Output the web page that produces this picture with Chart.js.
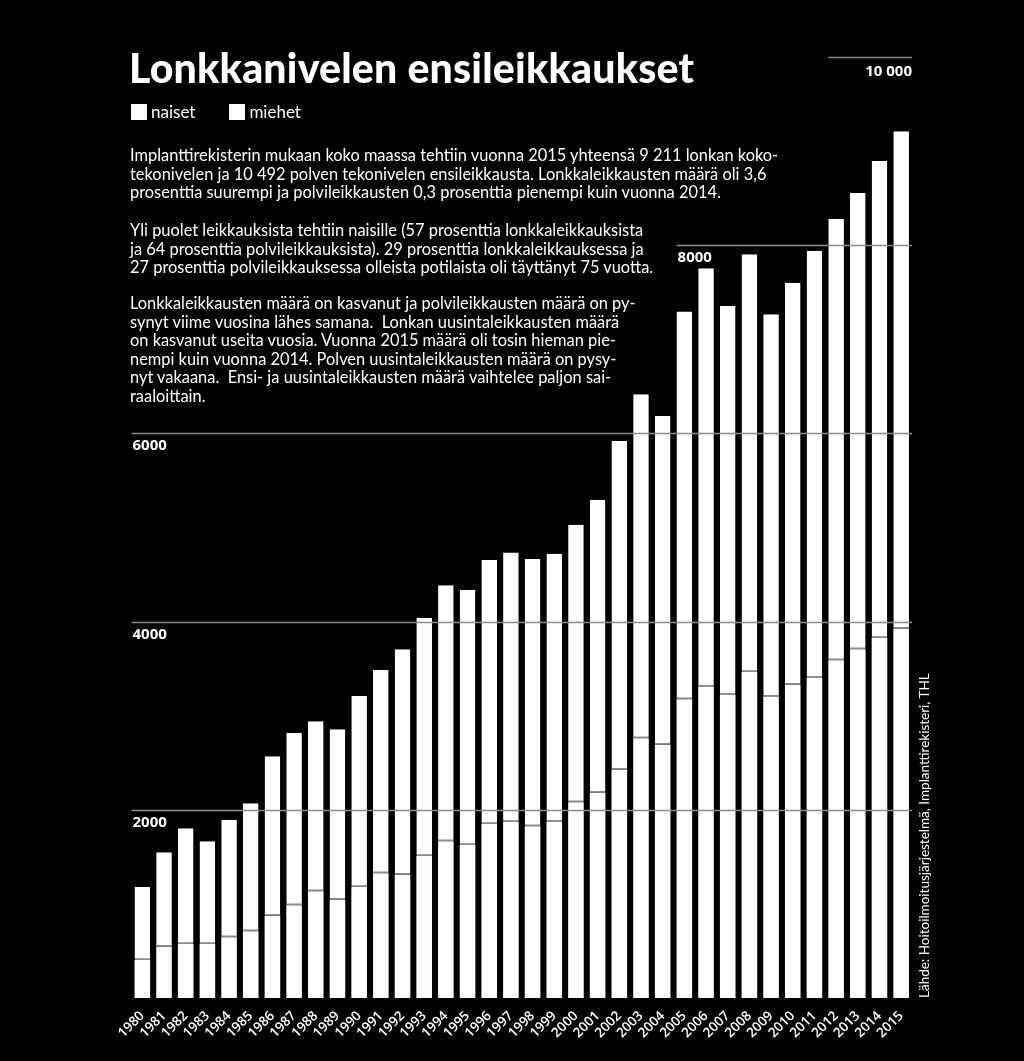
<!DOCTYPE html>
<html>
<head>
<meta charset="utf-8">
<script src="https://cdn.jsdelivr.net/npm/chart.js@4/dist/chart.umd.min.js"></script>
<style>
  html, body { margin: 0; padding: 0; background: #000; }
  body { width: 1024px; height: 1061px; position: relative; overflow: hidden; font-family: Lato, "Open Sans", sans-serif; color: #fff; }
  #chart { position: absolute; left: 0; top: 0; }
  .title { position: absolute; left: 129px; top: 43px; font-size: 41px; font-weight: 900; letter-spacing: 0.2px; white-space: nowrap; }
  .legend { position: absolute; left: 131px; top: 101px; font-size: 17px; display: flex; align-items: center; }
  .legend .box { display: inline-block; width: 16px; height: 16px; background: #fff; margin-right: 4px; }
  .legend .item { display: flex; align-items: center; margin-right: 34px; }
  .txt { position: absolute; left: 130px; font-size: 16.4px; line-height: 18.5px; white-space: nowrap; }
  .source { position: absolute; left: 917px; top: 998px; transform-origin: 0 0; transform: rotate(-90deg); font-size: 13.5px; white-space: nowrap; line-height: 14px; }
</style>
</head>
<body>
<canvas id="chart" width="1024" height="1061"></canvas>
<div class="title">Lonkkanivelen ensileikkaukset</div>
<div class="legend">
  <span class="item"><span class="box"></span>naiset</span>
  <span class="item"><span class="box"></span>miehet</span>
</div>
<div class="txt" style="top:146px">Implanttirekisterin mukaan koko maassa tehtiin vuonna 2015 yhteensä 9 211 lonkan koko-<br>tekonivelen ja 10 492 polven tekonivelen ensileikkausta. Lonkkaleikkausten määrä oli 3,6<br>prosenttia suurempi ja polvileikkausten 0,3 prosenttia pienempi kuin vuonna 2014.</div>
<div class="txt" style="top:221px">Yli puolet leikkauksista tehtiin naisille (57 prosenttia lonkkaleikkauksista<br>ja 64 prosenttia polvileikkauksista). 29 prosenttia lonkkaleikkauksessa ja<br>27 prosenttia polvileikkauksessa olleista potilaista oli täyttänyt 75 vuotta.</div>
<div class="txt" style="top:294px">Lonkkaleikkausten määrä on kasvanut ja polvileikkausten määrä on py-<br>synyt viime vuosina lähes samana.&nbsp; Lonkan uusintaleikkausten määrä<br>on kasvanut useita vuosia. Vuonna 2015 määrä oli tosin hieman pie-<br>nempi kuin vuonna 2014. Polven uusintaleikkausten määrä on pysy-<br>nyt vakaana.&nbsp; Ensi- ja uusintaleikkausten määrä vaihtelee paljon sai-<br>raaloittain.</div>
<div class="source">Lähde: Hoitoilmoitusjärjestelmä, Implanttirekisteri, THL</div>

<script>
const years = ["1980", "1981", "1982", "1983", "1984", "1985", "1986", "1987", "1988", "1989",
  "1990", "1991", "1992", "1993", "1994", "1995", "1996", "1997", "1998", "1999",
  "2000", "2001", "2002", "2003", "2004", "2005", "2006", "2007", "2008", "2009",
  "2010", "2011", "2012", "2013", "2014", "2015"];

// lower part of each bar
const miehet = [405, 545, 575, 575, 645, 710, 875, 985, 1135, 1045,
  1180, 1325, 1310, 1510, 1665, 1625, 1850, 1870, 1825, 1875,
  2080, 2180, 2425, 2760, 2690, 3175, 3310, 3225, 3465, 3205,
  3330, 3405, 3590, 3705, 3825, 3925];

// upper part of each bar
const naiset = [775, 1005, 1230, 1090, 1250, 1360, 1695, 1830, 1805, 1810,
  2030, 2160, 2395, 2530, 2720, 2710, 2805, 2865, 2840, 2845,
  2950, 3115, 3495, 3655, 3495, 4120, 4445, 4130, 4440, 4060,
  4270, 4535, 4690, 4850, 5070, 5286];

const gridValues = [2000, 4000, 6000, 8000, 10000];
const gridLabels = ["2000", "4000", "6000", "8000", "10 000"];
// year where a shortened grid line starts (others span the whole plot)
const gridStartYear = { 8000: "2005", 10000: "2012" };

const LINE_GREY = "#8c8c8c";

// grid lines are drawn on top of the bars, like in the print version
const overGrid = {
  id: "overGrid",
  afterDatasetsDraw(chart) {
    const { ctx, chartArea, scales } = chart;
    const band = scales.x.getPixelForValue(1) - scales.x.getPixelForValue(0);
    ctx.save();
    gridValues.forEach((v, i) => {
      const y = Math.round(scales.y.getPixelForValue(v)) + 0.5;
      let x0 = chartArea.left;
      if (gridStartYear[v]) {
        x0 = scales.x.getPixelForValue(years.indexOf(gridStartYear[v])) - band * 0.36;
      }
      ctx.strokeStyle = LINE_GREY;
      ctx.lineWidth = 1.5;
      ctx.beginPath();
      ctx.moveTo(x0, y);
      ctx.lineTo(chartArea.right, y);
      ctx.stroke();

      ctx.fillStyle = "#fff";
      ctx.font = "700 15px 'Open Sans', Lato, sans-serif";
      ctx.textBaseline = "top";
      ctx.textAlign = "left";
      if (v === 10000) {
        const w = ctx.measureText(gridLabels[i]).width;
        ctx.fillText(gridLabels[i], chartArea.right - w, y + 7);
      } else {
        ctx.fillText(gridLabels[i], x0 + 1, y + 5);
      }
    });
    ctx.restore();
  },
};

new Chart(document.getElementById("chart"), {
  type: "bar",
  data: {
    labels: years,
    datasets: [
      {
        label: "miehet",
        data: miehet,
        backgroundColor: "#fff",
        borderWidth: 0,
      },
      {
        label: "naiset",
        data: naiset,
        backgroundColor: "#fff",
        borderColor: LINE_GREY,
        borderWidth: { top: 0, left: 0, right: 0, bottom: 1.5 },
        borderSkipped: false,
      },
    ],
  },
  options: {
    responsive: false,
    animation: false,
    layout: { padding: { left: 131.5, right: 112, top: 57, bottom: 0 } },
    datasets: { bar: { categoryPercentage: 1, barPercentage: 0.72 } },
    plugins: {
      legend: { display: false },
      tooltip: { enabled: false },
    },
    scales: {
      x: {
        stacked: true,
        grid: { display: false },
        border: { display: false },
        ticks: {
          color: "#fff",
          font: { family: "'Open Sans', Lato, sans-serif", size: 13.5, weight: "600" },
          minRotation: 45,
          maxRotation: 45,
          autoSkip: false,
          padding: 2,
        },
        afterFit(scale) { scale.height = 63; },
      },
      y: {
        stacked: true,
        display: false,
        min: 0,
        max: 10000,
      },
    },
  },
  plugins: [overGrid],
});
</script>
</body>
</html>
